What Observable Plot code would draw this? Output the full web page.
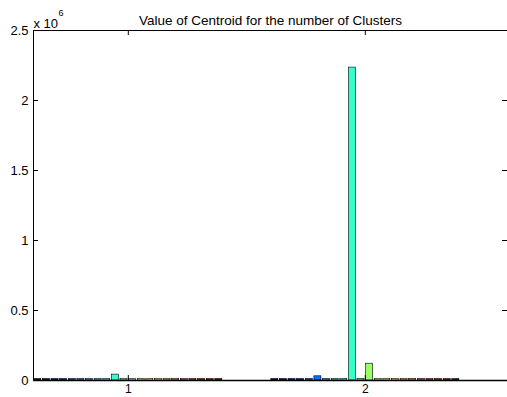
<!DOCTYPE html>
<html>
<head>
<meta charset="utf-8">
<script src="https://cdn.jsdelivr.net/npm/d3@7"></script>
<script src="https://cdn.jsdelivr.net/npm/@observablehq/plot@0.6"></script>
<style>
  html, body { margin: 0; padding: 0; background: #fff; }
  svg { display: block; }
</style>
</head>
<body>
<div id="chart"></div>
<script>
const titleText = "Value of Centroid for the number of Clusters";
const groups = [1, 2];
const xTickLabels = ["1", "2"];
const seriesCount = 22;
// value of each of the 22 series (clusters) for group 1 and group 2
const group1Values = [10000, 10000, 10000, 10000, 10000, 10000, 10000, 10000, 10000, 42000, 10000,
                      10000, 10000, 10000, 10000, 10000, 10000, 10000, 10000, 10000, 10000, 10000];
const group2Values = [10000, 10000, 10000, 10000, 10000, 30000, 10000, 10000, 10000, 2235000, 10000,
                      120000, 10000, 10000, 10000, 10000, 10000, 10000, 10000, 10000, 10000, 10000];
const yTicks = [0, 500000, 1000000, 1500000, 2000000, 2500000];
const yTickLabels = ["0", "0.5", "1", "1.5", "2", "2.5"];
const xDomain = [0.6, 2.6];
const yDomain = [0, 2500000];

function jet(t) {
  const c = v => Math.max(0, Math.min(1, v));
  const r = c(1.5 - Math.abs(4 * t - 3));
  const g = c(1.5 - Math.abs(4 * t - 2));
  const b = c(1.5 - Math.abs(4 * t - 1));
  return `rgb(${Math.round(r * 255)},${Math.round(g * 255)},${Math.round(b * 255)})`;
}

const groupWidth = 0.8;
const slot = groupWidth / seriesCount;
const table = [];
[group1Values, group2Values].forEach((vals, gi) => {
  vals.forEach((v, i) => {
    table.push({group: groups[gi], series: i, value: v, color: jet(i / (seriesCount - 1))});
  });
});

const W = 507, H = 397;
const mL = 33, mR = 0, mT = 30, mB = 17;
const plotW = W - mL - mR, plotH = H - mT - mB;
const tick = 5;
const font = "Liberation Sans, Arial, Helvetica, sans-serif";

const chart = Plot.plot({
  width: W,
  height: H,
  marginLeft: mL,
  marginRight: mR,
  marginTop: mT,
  marginBottom: mB,
  style: {fontFamily: font, fontSize: "13px", color: "#000", background: "#fff"},
  x: {domain: xDomain},
  y: {domain: yDomain},
  marks: [
    Plot.rectY(table, {
      x1: d => d.group - groupWidth / 2 + d.series * slot,
      x2: d => d.group - groupWidth / 2 + (d.series + 1) * slot,
      y: "value",
      fill: d => d.color,
      stroke: "#000",
      strokeWidth: 0.6,
      insetLeft: 0.8,
      insetRight: 0.8
    }),
    // box lines (left, top, bottom)
    Plot.ruleX([xDomain[0]], {stroke: "#000", strokeWidth: 1}),
    Plot.ruleY([yDomain[1]], {stroke: "#000", strokeWidth: 1}),
    Plot.ruleY([yDomain[0]], {stroke: "#000", strokeWidth: 1.5}),
    // inward ticks
    Plot.tickY(yTicks, {y: d => d, insetRight: plotW - tick, stroke: "#000"}),
    Plot.tickY(yTicks, {y: d => d, insetLeft: plotW - tick, stroke: "#000"}),
    Plot.tickX(groups, {x: d => d, insetBottom: plotH - tick, stroke: "#000"}),
    Plot.tickX(groups, {x: d => d, insetTop: plotH - tick, stroke: "#000"}),
    // tick labels
    Plot.axisY(yTicks, {tickSize: 0, tickPadding: 5, tickFormat: (d, i) => yTickLabels[i], label: null, fontSize: 13, fill: "#000"}),
    Plot.axisX(groups, {tickSize: 0, tickPadding: 4, tickFormat: (d, i) => xTickLabels[i], label: null, fontSize: 12, fill: "#000"}),
    // title and exponent
    Plot.text([titleText], {frameAnchor: "top", dy: -15.5, fontSize: 13.5, fill: "#000", text: d => d}),
    Plot.text(["x 10"], {frameAnchor: "top-left", textAnchor: "start", dx: 0, dy: -11.5, fontSize: 13, fill: "#000", text: d => d}),
    Plot.text(["6"], {frameAnchor: "top-left", textAnchor: "start", dx: 25, dy: -21, fontSize: 9, fill: "#000", text: d => d})
  ]
});
document.getElementById("chart").appendChild(chart);
</script>
</body>
</html>
